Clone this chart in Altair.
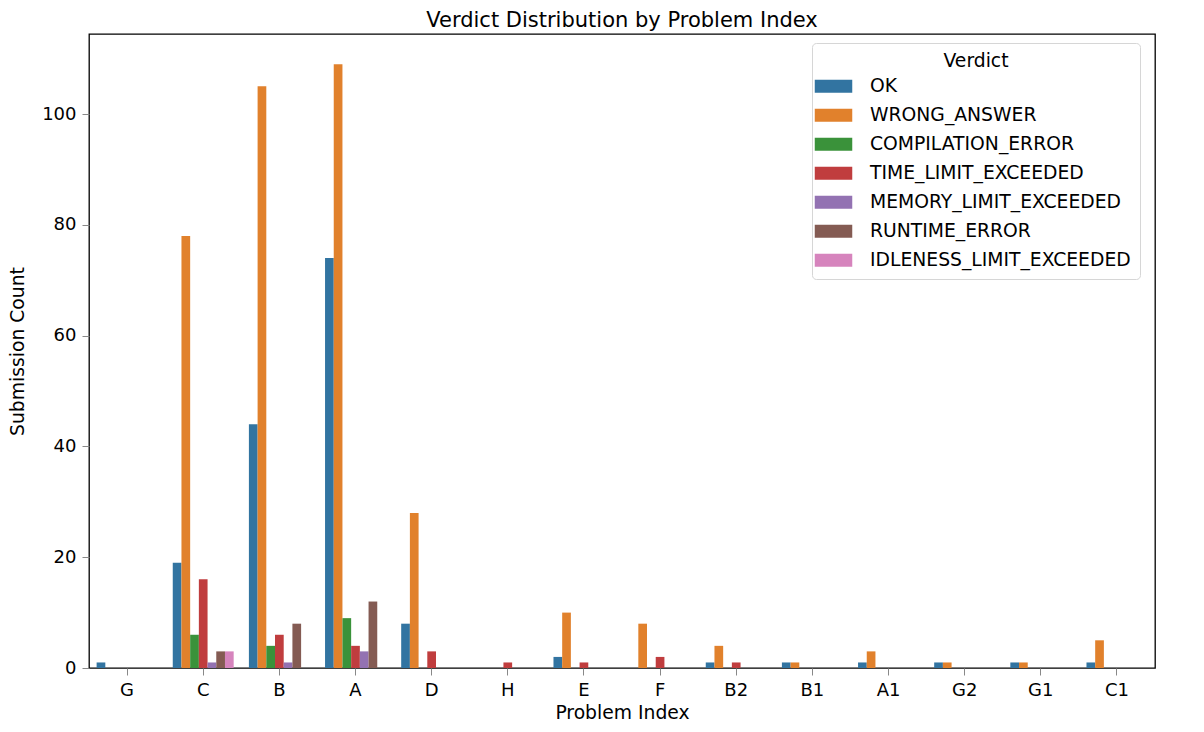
import altair as alt
import pandas as pd

problems = ["G", "C", "B", "A", "D", "H", "E", "F", "B2", "B1", "A1", "G2", "G1", "C1"]
verdicts = ["OK", "WRONG_ANSWER", "COMPILATION_ERROR", "TIME_LIMIT_EXCEEDED",
            "MEMORY_LIMIT_EXCEEDED", "RUNTIME_ERROR", "IDLENESS_LIMIT_EXCEEDED"]
colors = ["#3274a1", "#e1812c", "#3a923a", "#c03d3e", "#9372b2", "#845b53", "#d684bd"]

ok_counts = [1, 19, 44, 74, 8, 0, 2, 0, 1, 1, 1, 1, 1, 1]
wa_counts = [0, 78, 105, 109, 28, 0, 10, 8, 4, 1, 3, 1, 1, 5]
ce_counts = [0, 6, 4, 9, 0, 0, 0, 0, 0, 0, 0, 0, 0, 0]
tle_counts = [0, 16, 6, 4, 3, 1, 1, 2, 1, 0, 0, 0, 0, 0]
mle_counts = [0, 1, 1, 3, 0, 0, 0, 0, 0, 0, 0, 0, 0, 0]
re_counts = [0, 3, 8, 12, 0, 0, 0, 0, 0, 0, 0, 0, 0, 0]
ile_counts = [0, 3, 0, 0, 0, 0, 0, 0, 0, 0, 0, 0, 0, 0]

series = [ok_counts, wa_counts, ce_counts, tle_counts, mle_counts, re_counts, ile_counts]
rows = []
for v, vals in zip(verdicts, series):
    for p, c in zip(problems, vals):
        if c > 0:
            rows.append({"problem": p, "verdict": v, "count": c})
df = pd.DataFrame(rows)

FONT = "DejaVu Sans"

chart = alt.Chart(df).mark_bar().encode(
    x=alt.X("problem:N", sort=problems, title="Problem Index",
            scale=alt.Scale(domain=problems, paddingInner=0.2, paddingOuter=0.1),
            axis=alt.Axis(labelAngle=0, labelFontSize=18, titleFontSize=18.75,
                          titleFontWeight="normal", grid=False, domain=False,
                          tickSize=7, labelPadding=6, titlePadding=4)),
    xOffset=alt.XOffset("verdict:N", sort=verdicts,
                        scale=alt.Scale(domain=verdicts, paddingInner=0, paddingOuter=0)),
    y=alt.Y("count:Q", title="Submission Count",
            scale=alt.Scale(domain=[0, 114.45], nice=False, zero=True),
            axis=alt.Axis(values=[0, 20, 40, 60, 80, 100], labelFontSize=18,
                          titleFontSize=18.75, titleFontWeight="normal",
                          grid=False, domain=False,
                          tickSize=7, labelPadding=6, titlePadding=14)),
    color=alt.Color("verdict:N", sort=verdicts, title="Verdict",
                    scale=alt.Scale(domain=verdicts, range=colors),
                    legend=alt.Legend(orient="none", legendX=723, legendY=9,
                                      symbolType="M-1.5,-0.525H1.5V0.525H-1.5Z",
                                      symbolSize=625, symbolStrokeWidth=0,
                                      symbolOpacity=1,
                                      labelFontSize=18.75, titleFontSize=18.75,
                                      titleFontWeight="normal", titleAnchor="middle",
                                      titleColor="black", labelColor="black",
                                      labelLimit=500,
                                      titlePadding=3, rowPadding=6, labelOffset=24,
                                      padding=9, strokeColor="#d6d6d6",
                                      fillColor="white", cornerRadius=4,
                                      labelFont=FONT, titleFont=FONT)),
).properties(
    width=1066,
    height=634,
    title=alt.TitleParams("Verdict Distribution by Problem Index", fontSize=21,
                          fontWeight="normal", color="black", font=FONT, offset=3),
    autosize=alt.AutoSizeParams(type="none"),
    padding={"left": 81, "top": 26, "right": 40, "bottom": 56},
    view=alt.ViewBackground(stroke="#000000", strokeWidth=1.3),
).configure_view(
    stroke="#000000", strokeWidth=1.3
).configure_axis(
    grid=False, domain=False, labelColor="black", titleColor="black",
    tickColor="black", tickWidth=1.3, labelFont=FONT, titleFont=FONT,
    titleFontWeight="normal"
).configure(font=FONT)

chart.save("out.html", embed_options={"renderer": "svg", "actions": False})
